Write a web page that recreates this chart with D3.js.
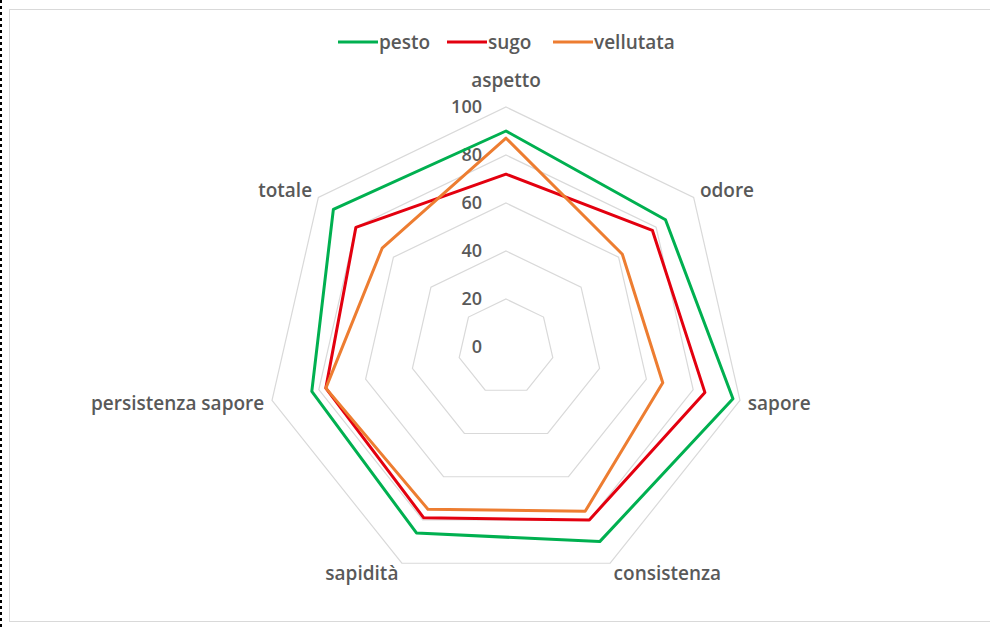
<!DOCTYPE html>
<html>
<head>
<meta charset="utf-8">
<script src="https://cdn.jsdelivr.net/npm/d3@7"></script>
<style>
  body { margin: 0; background: #fff; }
  text { font-family: "Open Sans", sans-serif; font-weight: 600; fill: #595959; }
</style>
</head>
<body>
<svg width="990" height="627"></svg>
<script>
// axes of the radar, clockwise from top
var categories = ['aspetto', 'odore', 'sapore', 'consistenza', 'sapidità', 'persistenza sapore', 'totale'];
var seriesNames = ['pesto', 'sugo', 'vellutata'];
var pesto = [90, 85, 97, 90, 86, 83, 92];
var sugo = [72, 78, 85, 80, 79, 77, 80];
var vellutata = [87, 62, 67, 76, 75, 77, 66];
var tickValues = [0, 20, 40, 60, 80, 100];

var colors = ['#00b050', '#e3000f', '#ed7d31'];
var seriesData = [pesto, sugo, vellutata];

var svg = d3.select('svg');
var cx = 506, cy = 347, radius = 240;

// frame of the chart area
svg.append('rect')
    .attr('x', 9.5).attr('y', 9.5)
    .attr('width', 990).attr('height', 612)
    .attr('fill', 'none')
    .attr('stroke', '#d9d9d9');
svg.append('line')
    .attr('x1', 1).attr('x2', 1).attr('y1', 0).attr('y2', 627)
    .attr('stroke', '#000').attr('stroke-dasharray', '3,3').attr('stroke-width', 2);

var r = d3.scaleLinear().domain([0, 100]).range([0, radius]);
var angle = d3.scalePoint().domain(categories).range([0, 2 * Math.PI * (categories.length - 1) / categories.length]);

var g = svg.append('g').attr('transform', 'translate(' + [cx, cy] + ')');

var pt = (c, v) => [r(v) * Math.sin(angle(c)), -r(v) * Math.cos(angle(c))];

// grid rings
g.selectAll('.ring')
    .data(tickValues.filter(d => d > 0))
    .enter().append('polygon')
    .attr('class', 'ring')
    .attr('points', d => categories.map(c => pt(c, d).join(',')).join(' '))
    .attr('fill', 'none')
    .attr('stroke', '#d9d9d9')
    .attr('stroke-width', 1.2);

// value labels along the vertical axis
g.selectAll('.tick')
    .data(tickValues)
    .enter().append('text')
    .attr('class', 'tick')
    .attr('x', -24)
    .attr('y', d => -r(d))
    .attr('dy', '0.35em')
    .attr('text-anchor', 'end')
    .attr('font-size', 18)
    .text(d => d);

// category labels
g.selectAll('.cat')
    .data(categories)
    .enter().append('text')
    .attr('class', 'cat')
    .attr('x', c => (radius + 8) * Math.sin(angle(c)))
    .attr('y', c => {
        var co = Math.cos(angle(c));
        var off = co > 0.9 ? -19 : co > 0 ? -2 : co > -0.5 ? 1 : 3;
        return -(radius + 8) * co + off;
    })
    .attr('dy', '0.35em')
    .attr('text-anchor', c => {
        var s = Math.sin(angle(c));
        return Math.abs(s) < 0.1 ? 'middle' : s > 0 ? 'start' : 'end';
    })
    .attr('font-size', 19)
    .text(c => c);

// series lines
var line = d3.line().curve(d3.curveLinearClosed);
g.selectAll('.series')
    .data(seriesData)
    .enter().append('path')
    .attr('class', 'series')
    .attr('d', d => line(d.map((v, i) => pt(categories[i], v))))
    .attr('fill', 'none')
    .attr('stroke', (d, i) => colors[i])
    .attr('stroke-width', 3)
    .attr('stroke-linejoin', 'round');

// legend
var legendX = [338, 447, 553];
var legend = svg.append('g').selectAll('g')
    .data(seriesNames)
    .enter().append('g')
    .attr('transform', (d, i) => 'translate(' + [legendX[i], 42] + ')');
legend.append('line')
    .attr('x1', 0).attr('x2', 40)
    .attr('stroke', (d, i) => colors[i])
    .attr('stroke-width', 3);
legend.append('text')
    .attr('x', 41)
    .attr('dy', '0.35em')
    .attr('font-size', 19)
    .text(d => d);
</script>
</body>
</html>
